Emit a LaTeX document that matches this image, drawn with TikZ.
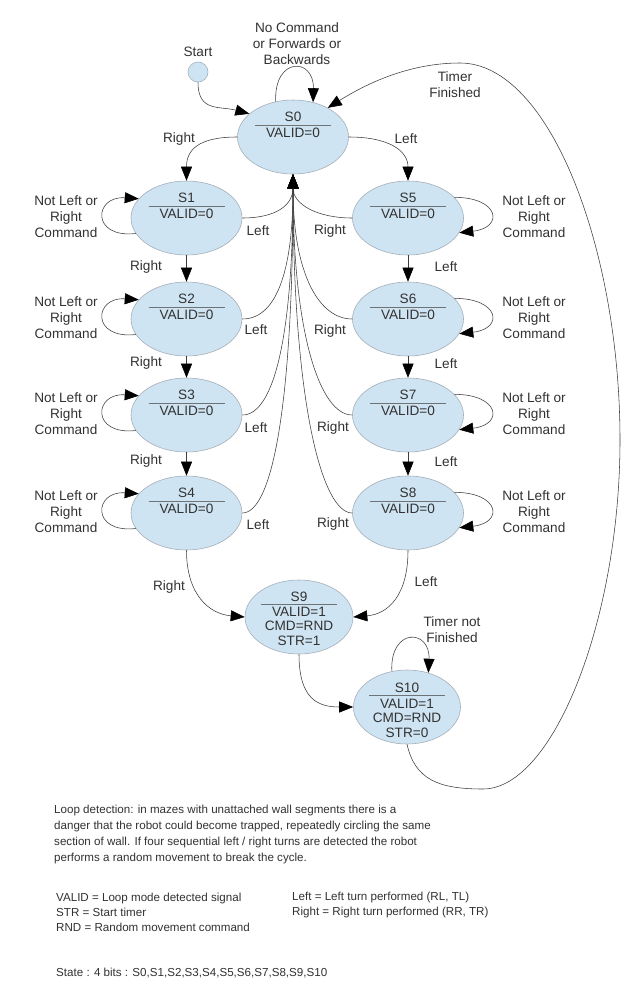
\documentclass[tikz,border=0pt]{standalone}
\usepackage{fontspec}
\setmainfont{Liberation Sans}
\usetikzlibrary{arrows.meta,shapes.geometric}
\definecolor{stfill}{RGB}{207,228,242}
\definecolor{stdraw}{RGB}{165,175,185}
\definecolor{txt}{RGB}{50,50,50}
\definecolor{ln}{RGB}{60,60,60}
\definecolor{rl}{RGB}{110,115,120}
\newcommand\stnode[5]{%
  \node[st] (#1) at (#2,#3) {};
  \node[lbl] (#1t) at (#2,#3-20) {#4};
  \draw[rl] (#2-38,#3-12) -- (#2+38,#3-12);
  \node[lbl] (#1v) at (#2,#3-4) {#5};
}
\begin{document}
\begin{tikzpicture}[x=1pt,y=-1pt,
  st/.style={ellipse, draw=stdraw, fill=stfill, minimum width=111pt, minimum height=74pt, inner sep=0pt, line width=0.6pt},
  lbl/.style={font=\fontsize{13.6}{16}\selectfont, text=txt, inner sep=0pt, align=center},
  bt/.style={font=\fontsize{11.6}{16}\selectfont, text=txt, inner sep=0pt, align=left, anchor=west},
  conn/.style={draw=ln, line width=0.55pt, -{Triangle[length=14pt,width=11pt,color=black,fill=black]}},
  rl/.style={draw=rl, line width=0.8pt}]
\useasboundingbox[fill=white] (0,0) rectangle (640,998);

% start
\node[circle, draw=stdraw, fill=stfill, minimum size=20pt, inner sep=0pt, line width=0.6pt] (start) at (198,72) {};
\node[lbl] (startl) at (198,52) {Start};

% states
\stnode{s0}{293}{137}{S0}{VALID=0}
\stnode{s1}{186.5}{218}{S1}{VALID=0}
\stnode{s2}{186.5}{319}{S2}{VALID=0}
\stnode{s3}{186.5}{415}{S3}{VALID=0}
\stnode{s4}{186.5}{513}{S4}{VALID=0}
\stnode{s5}{408}{218}{S5}{VALID=0}
\stnode{s6}{408}{319}{S6}{VALID=0}
\stnode{s7}{408}{415}{S7}{VALID=0}
\stnode{s8}{408}{513}{S8}{VALID=0}

\node[st, minimum width=108pt] (s9) at (299,617) {};
\node[lbl] (s9t) at (299,597) {S9};
\draw[rl] (261,604) -- (337,604);
\node[lbl, font=\fontsize{13.6}{14.5}\selectfont] (s9v) at (299,626) {VALID=1\\CMD=RND\\STR=1};

\node[st, minimum width=107pt] (s10) at (407,707) {};
\node[lbl] (s10t) at (407,688) {S10};
\draw[rl] (369,695) -- (445,695);
\node[lbl, font=\fontsize{13.6}{14.5}\selectfont] (s10v) at (407,718) {VALID=1\\CMD=RND\\STR=0};

% start edge
\draw[conn] (start.south) .. controls +(0,30) and +(-30,-8) .. (s0.152);
% S0 loop
\draw[conn] (s0.116) .. controls +(-2,-45) and +(1,-45) .. (s0.60);
\node[lbl] (s0ll) at (297,44) {No Command\\or Forwards or\\Backwards};

% timer finished
\coordinate (c1) at (483,789);
\coordinate (c2) at (620,440);
\coordinate (c3) at (460,63);
\draw[conn] (s10.south) .. controls +(8,35) and +(-45,0) .. (c1)
  .. controls +(70,0) and +(0,180) .. (c2)
  .. controls +(0,-190) and +(90,0) .. (c3)
  .. controls +(-50,0) and +(40,-25) .. (s0.40);
\node[lbl] (tfl) at (455,85) {Timer\\Finished};

% S0 to S1, S5
\draw[conn] (s0.180) .. controls +(-40,0) and +(0,-30) .. (s1.north);
\node[lbl] (r01) at (179,139) {Right};
\draw[conn] (s0.0) .. controls +(40,0) and +(0,-30) .. (s5.north);
\node[lbl] (l05) at (406,139) {Left};

% vertical chains
\draw[conn] (s1) -- (s2);
\draw[conn] (s2) -- (s3);
\draw[conn] (s3) -- (s4);
\draw[conn] (s5) -- (s6);
\draw[conn] (s6) -- (s7);
\draw[conn] (s7) -- (s8);
\node[lbl] (r12) at (146,267) {Right};
\node[lbl] (r23) at (146,363) {Right};
\node[lbl] (r34) at (146,461) {Right};
\node[lbl] (l56) at (446,267) {Left};
\node[lbl] (l67) at (446,364) {Left};
\node[lbl] (l78) at (446,462) {Left};

% self loops left
\foreach \s in {s1,s2,s3,s4}{
  \draw[conn] (\s.197) .. controls +(-45,5) and +(-45,-3) .. (\s.158);
}
\node[lbl] (nl1) at (66,217) {Not Left or\\Right\\Command};
\node[lbl] (nl2) at (66,318) {Not Left or\\Right\\Command};
\node[lbl] (nl3) at (66,414) {Not Left or\\Right\\Command};
\node[lbl] (nl4) at (66,512) {Not Left or\\Right\\Command};
% self loops right
\foreach \s in {s5,s6,s7,s8}{
  \draw[conn] (\s.24) .. controls +(45,0) and +(45,-5) .. (\s.-16);
}
\node[lbl] (nr5) at (534,217) {Not Left or\\Right\\Command};
\node[lbl] (nr6) at (534,318) {Not Left or\\Right\\Command};
\node[lbl] (nr7) at (534,414) {Not Left or\\Right\\Command};
\node[lbl] (nr8) at (534,512) {Not Left or\\Right\\Command};

% returns to S0
\draw[conn] (s1.east) .. controls +(35,0) and +(0,30) .. (s0.south);
\draw[conn] (s2.east) .. controls +(33,0) and +(0,100) .. (s0.south);
\draw[conn] (s3.east) .. controls +(32,0) and +(0,160) .. (s0.south);
\draw[conn] (s4.east) .. controls +(30,0) and +(0,230) .. (s0.south);
\draw[conn] (s5.west) .. controls +(-35,0) and +(0,30) .. (s0.south);
\draw[conn] (s6.west) .. controls +(-33,0) and +(0,100) .. (s0.south);
\draw[conn] (s7.west) .. controls +(-32,0) and +(0,160) .. (s0.south);
\draw[conn] (s8.west) .. controls +(-30,0) and +(0,230) .. (s0.south);
\node[lbl] (l10) at (258,231) {Left};
\node[lbl] (l20) at (256,330) {Left};
\node[lbl] (l30) at (256,428) {Left};
\node[lbl] (l40) at (258,525) {Left};
\node[lbl] (r50) at (330,231) {Right};
\node[lbl] (r60) at (330,331) {Right};
\node[lbl] (r70) at (333,428) {Right};
\node[lbl] (r80) at (333,524) {Right};

% to S9, S10
\draw[conn] (s4.south) .. controls +(0,45) and +(-35,-3) .. (s9.west);
\node[lbl] (r49) at (169,587) {Right};
\draw[conn] (s8.south) .. controls +(0,45) and +(35,-3) .. (s9.east);
\node[lbl] (l89) at (426,582) {Left};
\draw[conn] (s9.south) .. controls +(0,45) and +(-35,0) .. (s10.west);
\draw[conn] (s10.113) .. controls +(-2,-44) and +(2,-44) .. (s10.58);
\node[lbl] (tnf) at (452,630) {Timer not\\Finished};

% notes
\node[bt] (para) at (54,834) {Loop detection: in mazes with unattached wall segments there is a\\danger that the robot could become trapped, repeatedly circling the same\\section of wall. If four sequential left / right turns are detected the robot\\performs a random movement to break the cycle.};
\node[bt, font=\fontsize{11.6}{15}\selectfont] (leg1) at (56,912) {VALID = Loop mode detected signal\\STR = Start timer\\RND = Random movement command};
\node[bt, font=\fontsize{11.6}{15}\selectfont] (leg2) at (292,904.5) {Left = Left turn performed (RL, TL)\\Right = Right turn performed (RR, TR)};
\node[bt] (stl) at (56,973) {State : 4 bits : S0,S1,S2,S3,S4,S5,S6,S7,S8,S9,S10};
\end{tikzpicture}
\end{document}
